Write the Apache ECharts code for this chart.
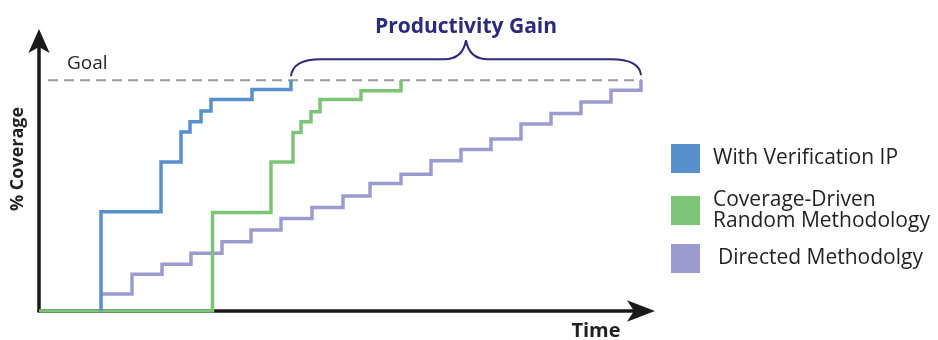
<!DOCTYPE html>
<html>
<head>
<meta charset="utf-8">
<script src="https://cdn.jsdelivr.net/npm/echarts@6/dist/echarts.min.js"></script>
<style>
  html, body { margin: 0; padding: 0; background: #ffffff; }
  #chart { width: 938px; height: 340px; }
</style>
</head>
<body>
<div id="chart"></div>
<script>
// Series names, as shown in the legend
const seriesNames = ['With Verification IP', 'Coverage-Driven Random Methodology', 'Directed Methodolgy'];
const seriesColors = ['#5790cd', '#7cc576', '#9b9bcf'];

// Step points: [time at which a level begins, % coverage]
const verificationIpTime = [6.2, 6.2, 12.2, 14.2, 15.1, 16.2, 17.2, 21.3, 25.2];
const verificationIpCov  = [0, 43, 64.6, 77.6, 82, 86.7, 91.6, 96, 100];

const randomTime = [0, 17.35, 23.2, 25.4, 26.2, 27.2, 28.1, 32.2, 36.2];
const randomCov  = [0, 42.7, 64.6, 77.4, 82, 86.3, 91.6, 95.4, 100];

const directedTime = [6.3, 9.3, 12.3, 15.2, 18.3, 21.2, 24.2, 27.3, 30.4, 33.1, 36.2, 39.2, 42.2, 45.2, 48.2, 51.2, 54.2, 57.2, 60.2];
const directedCov  = [7.4, 15.9, 20.3, 25, 30, 35.1, 40.1, 44.9, 49.8, 55.3, 59.3, 65.1, 70, 74.5, 81, 85.6, 90.6, 95.7, 100];

// Goal level and the time span its dashed line covers
const goalCoverage = 100;
const goalSpan = [0.9, 61.6];

const axisLabels = { x: 'Time', y: '% Coverage', goal: 'Goal', gain: 'Productivity Gain' };

const FONT = '"Open Sans", "DejaVu Sans", sans-serif';
const TEXT_DARK = '#231f20';
const BRACE_COLOR = '#2d2a7a';

const zip = (xs, ys) => xs.map((x, i) => [x, ys[i]]);

const chart = echarts.init(document.getElementById('chart'), null, { renderer: 'canvas' });

function stepSeries(name, color, xs, ys, z) {
  return {
    name: name,
    type: 'line',
    step: 'end',
    data: zip(xs, ys),
    symbol: 'none',
    z: z,
    lineStyle: { color: color, width: 3.5, cap: 'butt', join: 'miter' },
    itemStyle: { color: color }
  };
}

function legendFor(name, top, textPad) {
  return {
    data: [{ name: name, icon: 'rect' }],
    left: 671,
    top: top,
    padding: 0,
    itemWidth: 29,
    itemHeight: 29,
    selectedMode: false,
    formatter: n => n.replace('Driven ', 'Driven\n'),
    textStyle: {
      fontFamily: FONT,
      fontSize: 21,
      lineHeight: 21,
      color: TEXT_DARK,
      padding: [0, 0, 0, textPad]
    }
  };
}

chart.setOption({
  animation: false,
  backgroundColor: '#ffffff',
  grid: { left: 39, top: 41, bottom: 29, width: 602, containLabel: false, outerBoundsMode: 'none' },
  xAxis: {
    type: 'value',
    min: 0,
    max: 60.2,
    axisLine: {
      show: true,
      symbol: ['none', 'arrow'],
      symbolSize: [16, 28],
      symbolOffset: [0, 14],
      lineStyle: { color: '#1a1a1a', width: 3.5 }
    },
    axisTick: { show: false },
    axisLabel: { show: false },
    splitLine: { show: false }
  },
  yAxis: {
    type: 'value',
    min: 0,
    max: 117,
    name: axisLabels.y,
    nameLocation: 'middle',
    nameRotate: 90,
    nameGap: 12,
    nameTextStyle: {
      fontFamily: FONT,
      fontWeight: 'bold',
      fontSize: 18,
      color: TEXT_DARK,
      padding: [0, 0, 0, 34]
    },
    axisLine: {
      show: true,
      symbol: ['none', 'arrow'],
      symbolSize: [16, 24],
      symbolOffset: [0, 12],
      lineStyle: { color: '#1a1a1a', width: 3.5 }
    },
    axisTick: { show: false },
    axisLabel: { show: false },
    splitLine: { show: false }
  },
  legend: [
    legendFor(seriesNames[0], 144, 8),
    legendFor(seriesNames[1], 189.5, 8),
    legendFor(seriesNames[2], 244, 13)
  ],
  series: [
    {
      name: 'goal',
      type: 'line',
      data: [[goalSpan[0], goalCoverage], [goalSpan[1], goalCoverage]],
      symbol: 'none',
      clip: false,
      z: 1,
      silent: true,
      lineStyle: { color: '#9a9a9a', width: 2, type: [10, 6] }
    },
    stepSeries(seriesNames[2], seriesColors[2], directedTime, directedCov, 2),
    stepSeries(seriesNames[1], seriesColors[1], randomTime, randomCov, 3),
    stepSeries(seriesNames[0], seriesColors[0], verificationIpTime, verificationIpCov, 4)
  ]
});

// Annotations placed from data coordinates: goal label, gain brace, axis name
const toPx = (x, y) => chart.convertToPixel({ gridIndex: 0 }, [x, y]);
const left = toPx(verificationIpTime[verificationIpTime.length - 1], goalCoverage);
const right = toPx(directedTime[directedTime.length - 1], goalCoverage);
const xl = left[0], xr = right[0], yg = left[1];
const m = (xl + xr) / 2;
const flatY = yg - 21, peakY = yg - 40;

const braceStyle = { stroke: BRACE_COLOR, lineWidth: 2, fill: null };
const braceParts = [
  { type: 'bezierCurve', shape: { x1: xl, y1: yg - 4, cpx1: xl + 1, cpy1: yg - 15, cpx2: xl + 10, cpy2: flatY, x2: xl + 30, y2: flatY } },
  { type: 'line', shape: { x1: xl + 30, y1: flatY, x2: m - 22, y2: flatY } },
  { type: 'bezierCurve', shape: { x1: m - 22, y1: flatY, cpx1: m - 8, cpy1: flatY, cpx2: m - 2, cpy2: yg - 28, x2: m, y2: peakY } },
  { type: 'bezierCurve', shape: { x1: m, y1: peakY, cpx1: m + 2, cpy1: yg - 28, cpx2: m + 8, cpy2: flatY, x2: m + 22, y2: flatY } },
  { type: 'line', shape: { x1: m + 22, y1: flatY, x2: xr - 30, y2: flatY } },
  { type: 'bezierCurve', shape: { x1: xr - 30, y1: flatY, cpx1: xr - 10, cpy1: flatY, cpx2: xr - 1, cpy2: yg - 15, x2: xr, y2: yg - 5 } }
].map(p => Object.assign(p, { style: braceStyle, silent: true }));

const goalPos = toPx(2.8, goalCoverage);
const origin = toPx(0, 0);

chart.setOption({
  graphic: braceParts.concat([
    {
      type: 'text',
      x: m,
      y: 27,
      style: {
        text: axisLabels.gain,
        fontFamily: FONT,
        fontWeight: 'bold',
        fontSize: 21,
        fill: BRACE_COLOR,
        align: 'center',
        verticalAlign: 'middle'
      }
    },
    {
      type: 'text',
      x: goalPos[0],
      y: goalPos[1] - 17,
      style: {
        text: axisLabels.goal,
        fontFamily: FONT,
        fontSize: 19,
        fill: TEXT_DARK,
        align: 'left',
        verticalAlign: 'middle'
      }
    },
    {
      type: 'text',
      x: 596,
      y: origin[1] + 20,
      style: {
        text: axisLabels.x,
        fontFamily: FONT,
        fontWeight: 'bold',
        fontSize: 20,
        fill: TEXT_DARK,
        align: 'center',
        verticalAlign: 'middle'
      }
    }
  ])
});
</script>
</body>
</html>
